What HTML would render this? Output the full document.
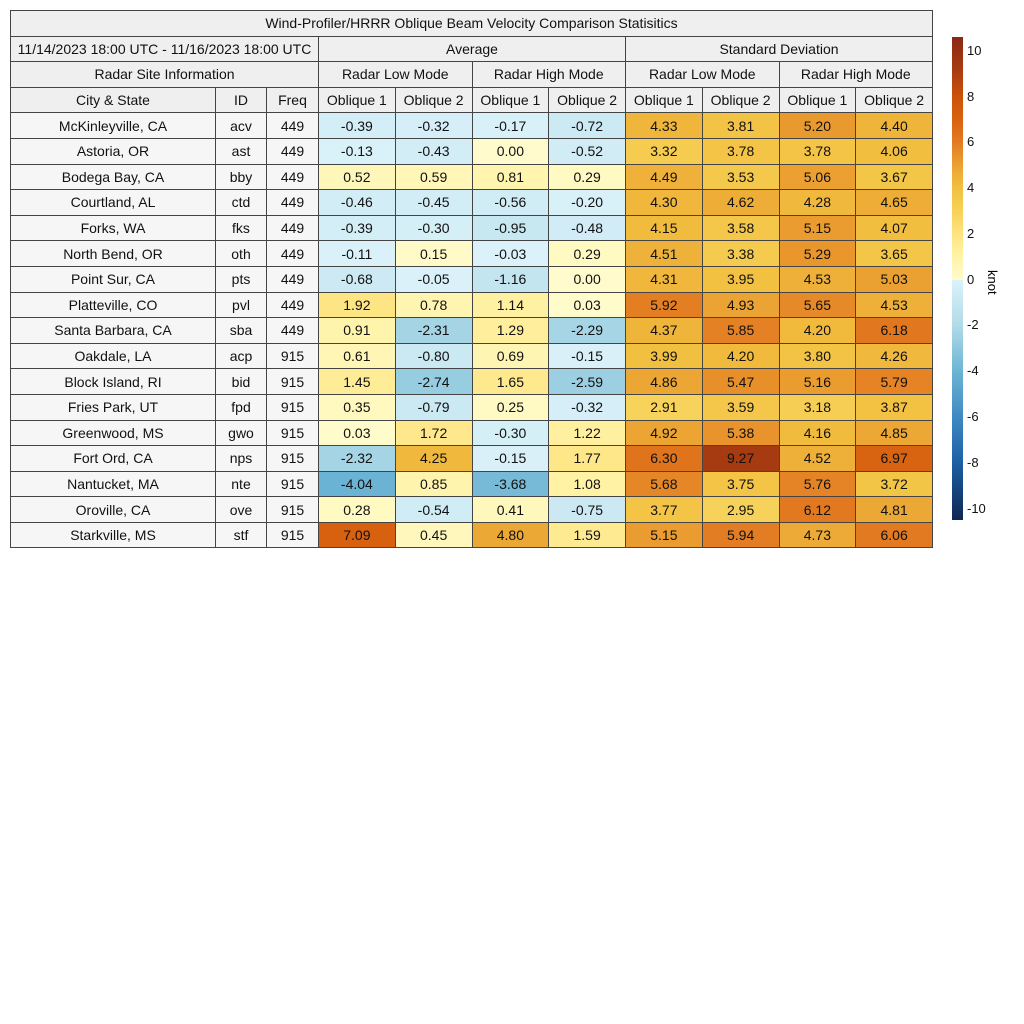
<!DOCTYPE html>
<html><head><meta charset="utf-8"><style>
body{margin:0;width:1024px;height:1024px;background:#fff;position:relative;font-family:"Liberation Sans",sans-serif;overflow:hidden}
table{position:absolute;left:10px;top:10px;border-collapse:collapse;table-layout:fixed;width:922px}
td{border:1px solid #444;text-align:center;font-size:14px;color:#111;padding:0;height:24.6px;white-space:nowrap;overflow:hidden}
td.h{background:#efefef}
td.s{background:#f6f6f6}
#cb{position:absolute;left:952px;top:37px;width:11px;height:483px}
.tk{position:absolute;left:967px;font-size:13px;color:#111}
#unit{position:absolute;left:980px;top:270px;font-size:13px;transform:rotate(90deg);transform-origin:left top;left:1000px}
</style></head><body>
<table id="tbl">
<colgroup><col style="width:205px"><col style="width:51px"><col style="width:52px"><col span="8" style="width:76.75px"></colgroup>
<tr><td class="h" colspan="11">Wind-Profiler/HRRR Oblique Beam Velocity Comparison Statisitics</td></tr>
<tr><td class="h" colspan="3">11/14/2023 18:00 UTC - 11/16/2023 18:00 UTC</td><td class="h" colspan="4">Average</td><td class="h" colspan="4">Standard Deviation</td></tr>
<tr><td class="h" colspan="3">Radar Site Information</td><td class="h" colspan="2">Radar Low Mode</td><td class="h" colspan="2">Radar High Mode</td><td class="h" colspan="2">Radar Low Mode</td><td class="h" colspan="2">Radar High Mode</td></tr>
<tr id="hdr"><td class="h">City &amp; State</td><td class="h">ID</td><td class="h">Freq</td><td class="h">Oblique 1</td><td class="h">Oblique 2</td><td class="h">Oblique 1</td><td class="h">Oblique 2</td><td class="h">Oblique 1</td><td class="h">Oblique 2</td><td class="h">Oblique 1</td><td class="h">Oblique 2</td></tr>
</table>
<svg id="cb" width="11" height="483"></svg>
<div id="unit">knot</div>
<script>
const cities=["McKinleyville, CA","Astoria, OR","Bodega Bay, CA","Courtland, AL","Forks, WA","North Bend, OR","Point Sur, CA","Platteville, CO","Santa Barbara, CA","Oakdale, LA","Block Island, RI","Fries Park, UT","Greenwood, MS","Fort Ord, CA","Nantucket, MA","Oroville, CA","Starkville, MS"];
const ids=["acv","ast","bby","ctd","fks","oth","pts","pvl","sba","acp","bid","fpd","gwo","nps","nte","ove","stf"];
const freqs=[449,449,449,449,449,449,449,449,449,915,915,915,915,915,915,915,915];
const avgLow1=[-0.39,-0.13,0.52,-0.46,-0.39,-0.11,-0.68,1.92,0.91,0.61,1.45,0.35,0.03,-2.32,-4.04,0.28,7.09];
const avgLow2=[-0.32,-0.43,0.59,-0.45,-0.30,0.15,-0.05,0.78,-2.31,-0.80,-2.74,-0.79,1.72,4.25,0.85,-0.54,0.45];
const avgHigh1=[-0.17,0.00,0.81,-0.56,-0.95,-0.03,-1.16,1.14,1.29,0.69,1.65,0.25,-0.30,-0.15,-3.68,0.41,4.80];
const avgHigh2=[-0.72,-0.52,0.29,-0.20,-0.48,0.29,0.00,0.03,-2.29,-0.15,-2.59,-0.32,1.22,1.77,1.08,-0.75,1.59];
const sdLow1=[4.33,3.32,4.49,4.30,4.15,4.51,4.31,5.92,4.37,3.99,4.86,2.91,4.92,6.30,5.68,3.77,5.15];
const sdLow2=[3.81,3.78,3.53,4.62,3.58,3.38,3.95,4.93,5.85,4.20,5.47,3.59,5.38,9.27,3.75,2.95,5.94];
const sdHigh1=[5.20,3.78,5.06,4.28,5.15,5.29,4.53,5.65,4.20,3.80,5.16,3.18,4.16,4.52,5.76,6.12,4.73];
const sdHigh2=[4.40,4.06,3.67,4.65,4.07,3.65,5.03,4.53,6.18,4.26,5.79,3.87,4.85,6.97,3.72,4.81,6.06];
const ticks=[10,8,6,4,2,0,-2,-4,-6,-8,-10];
const pos=[[0,[255,251,204]],[1,[255,243,168]],[2,[254,228,128]],[3,[247,209,88]],[4,[242,192,64]],[5,[235,162,50]],[6,[227,123,34]],[7,[216,98,15]],[8,[204,82,10]],[9,[172,62,16]],[10.5,[140,42,20]]];
const neg=[[0,[220,242,250]],[2,[176,219,232]],[4,[108,180,212]],[6,[63,137,194]],[8,[28,95,164]],[10.5,[14,39,82]]];
function interp(st,v){v=Math.min(v,10.5);for(let i=1;i<st.length;i++){if(v<=st[i][0]){const a=st[i-1],b=st[i],t=(v-a[0])/(b[0]-a[0]);return 'rgb('+a[1].map((c,k)=>Math.round(c+(b[1][k]-c)*t)).join(',')+')';}}return 'rgb('+st[st.length-1][1].join(',')+')';}
function color(v){return v>=0?interp(pos,v):interp(neg,-v);}
const tbl=document.getElementById('tbl');
const series=[avgLow1,avgLow2,avgHigh1,avgHigh2,sdLow1,sdLow2,sdHigh1,sdHigh2];
for(let i=0;i<cities.length;i++){
 const tr=document.createElement('tr');
 
 
 [cities[i],ids[i],freqs[i]].forEach(t=>{const td=document.createElement('td');td.className='s';td.textContent=t;
 
 
 tr.appendChild(td);});
 series.forEach(s=>{const td=document.createElement('td');td.textContent=s[i].toFixed(2);td.style.background=color(s[i]);
 
 
 tr.appendChild(td);});
 tbl.appendChild(tr);
}
const cb=document.getElementById('cb');const H=483,vmax=10.6,vmin=-10.5;
const y=v=>(vmax-v)/(vmax-vmin)*H;
for(let k=0;k<H;k++){const v=vmax-(k+0.5)/H*(vmax-vmin);const r=document.createElementNS('http://www.w3.org/2000/svg','rect');
 r.setAttribute('x',0);r.setAttribute('y',k);r.setAttribute('width',11);r.setAttribute('height',1.2);r.setAttribute('fill',color(v));
 
 
 cb.appendChild(r);}
ticks.forEach(t=>{const d=document.createElement('div');d.className='tk';d.textContent=t;d.style.top=(37+y(t)-8)+'px';
 
 
 document.body.appendChild(d);});
</script>
</body></html>
